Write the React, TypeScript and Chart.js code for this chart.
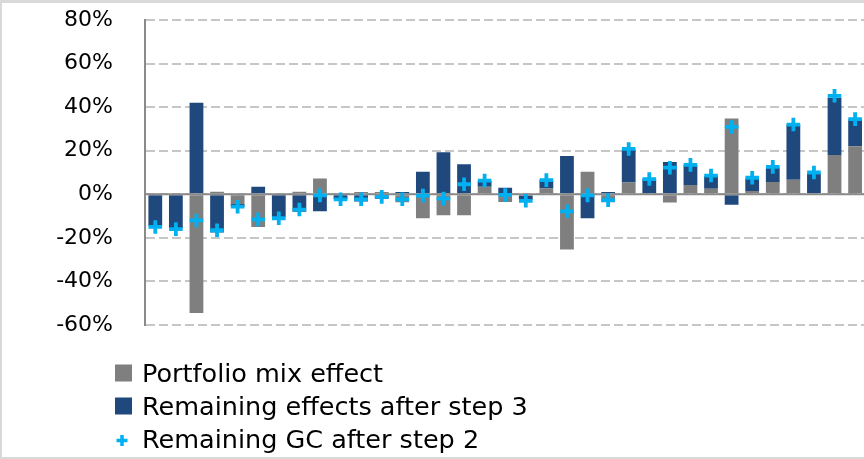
import React, { useEffect, useRef } from 'react';
import { Chart, registerables } from 'chart.js';

Chart.register(...registerables);

const categories = [
  '1', '2', '3', '4', '5', '6', '7', '8', '9', '10', '11', '12', '13', '14', '15', '16', '17', '18',
  '19', '20', '21', '22', '23', '24', '25', '26', '27', '28', '29', '30', '31', '32', '33', '34', '35',
];

const portfolioMix = [
  0, 0, -54.5, 1.2, -4.5, -15, 0, 1.2, 7.3, 0, 1, 1, -3.6, -11, -9.6, -9.6, 3.5, -3.5,
  -0.5, 2.7, -25.3, 10.3, -3.6, 5.4, 0.5, -3.8, 4.3, 2.5, 34.8, 1.5, 5.6, 6.7, 0.6, 18, 22,
];

const remainingEffects = [
  -14.5, -15.5, 42, -17.5, -1.2, 3.5, -10.5, -8, -7.8, -2.3, -3.3, -2, 1, 10.3, 19.3, 13.8, 2.6, 3,
  -2, 3.8, 17.6, -11, 1, 15, 6.5, 14.8, 9.1, 5.9, -4.8, 5.8, 6.7, 25.3, 8.9, 26.3, 12.3,
];

const remainingGC = [
  -15, -16, -12, -16.5, -5.7, -11.5, -11, -7, -0.5, -2.3, -2.3, -1.2, -2.3, -0.6, -2, 4.6, 6.3, -0.3,
  -3, 6.5, -7.8, -0.5, -2.7, 20.8, 7, 12.2, 13.5, 8.6, 30.9, 7.6, 12.6, 32, 10, 45.2, 34.5,
];

const seriesLabels = [
  'Portfolio mix effect',
  'Remaining effects after step 3',
  'Remaining GC after step 2',
];

const Y_MIN = -60;
const Y_MAX = 80;
const Y_STEP = 20;

const GRAY = '#7f7f7f';
const NAVY = '#1f497d';
const CYAN = '#00b0f0';
const AXIS = '#8a8a8a';
const GRID = '#c6c6c6';
const FONT = '"DejaVu Sans", sans-serif';

const zeroLinePlugin = {
  id: 'zeroLine',
  beforeDatasetDraw(chart: any, args: any) {
    if (args.index !== 2) return;
    const { ctx, chartArea, scales } = chart;
    const y = scales.y.getPixelForValue(0);
    ctx.save();
    ctx.strokeStyle = AXIS;
    ctx.lineWidth = 2;
    ctx.beginPath();
    ctx.moveTo(chartArea.left, y);
    ctx.lineTo(chartArea.right, y);
    ctx.stroke();
    ctx.restore();
  },
};

const legendPlugin = {
  id: 'columnLegend',
  afterDraw(chart: any) {
    const { ctx, chartArea } = chart;
    const baselines = [chartArea.bottom + 56.5, chartArea.bottom + 89.5, chartArea.bottom + 123];
    const boxX = 115;
    const textX = 142;
    ctx.save();
    ctx.font = `25.5px ${FONT}`;
    ctx.textBaseline = 'alphabetic';
    ctx.textAlign = 'left';
    chart.data.datasets.forEach((ds: any, i: number) => {
      const b = baselines[i];
      if (ds.type === 'line') {
        const cx = boxX + 7;
        const cy = b - 7.5;
        ctx.strokeStyle = ds.borderColor;
        ctx.lineWidth = 3.5;
        ctx.beginPath();
        ctx.moveTo(cx - 5.5, cy);
        ctx.lineTo(cx + 5.5, cy);
        ctx.moveTo(cx, cy - 5.5);
        ctx.lineTo(cx, cy + 5.5);
        ctx.stroke();
      } else {
        ctx.fillStyle = ds.backgroundColor;
        ctx.fillRect(boxX, b - 17, 17, 17);
      }
      ctx.fillStyle = '#000000';
      ctx.fillText(ds.label, textX, b);
    });
    ctx.restore();
  },
};

export default function App() {
  const canvasRef = useRef<HTMLCanvasElement | null>(null);

  useEffect(() => {
    if (!canvasRef.current) return;
    const chart = new Chart(canvasRef.current, {
      type: 'bar',
      data: {
        labels: categories,
        datasets: [
          {
            type: 'bar',
            label: seriesLabels[0],
            data: portfolioMix,
            backgroundColor: GRAY,
            borderWidth: 0,
            stack: 'effects',
            categoryPercentage: 1,
            barPercentage: 0.67,
          },
          {
            type: 'bar',
            label: seriesLabels[1],
            data: remainingEffects,
            backgroundColor: NAVY,
            borderWidth: 0,
            stack: 'effects',
            categoryPercentage: 1,
            barPercentage: 0.67,
          },
          {
            type: 'line',
            label: seriesLabels[2],
            data: remainingGC,
            showLine: false,
            stack: 'markers',
            order: -1,
            borderColor: CYAN,
            backgroundColor: CYAN,
            pointStyle: 'cross',
            pointRadius: 6.8,
            pointBorderWidth: 3.8,
            pointBorderColor: CYAN,
            pointBackgroundColor: CYAN,
          },
        ] as any,
      },
      options: {
        animation: false,
        responsive: false,
        maintainAspectRatio: false,
        layout: { padding: { top: 20, bottom: 134, left: 0, right: 2 } },
        plugins: {
          legend: { display: false },
          tooltip: { enabled: false },
        },
        scales: {
          x: {
            type: 'category',
            stacked: true,
            display: false,
            offset: true,
          },
          y: {
            type: 'linear',
            stacked: true,
            min: Y_MIN,
            max: Y_MAX,
            afterFit: (scale: any) => {
              scale.width = 145;
            },
            ticks: {
              stepSize: Y_STEP,
              padding: 0,
              color: '#000000',
              font: { family: FONT, size: 22 },
              callback: (v: any) => `${v}%`,
            },
            grid: {
              color: GRID,
              lineWidth: 2,
              drawTicks: true,
              tickLength: 32,
              tickColor: 'rgba(0,0,0,0)',
            },
            border: { display: true, color: AXIS, width: 2, dash: [9, 4] },
          },
        },
      } as any,
      plugins: [zeroLinePlugin, legendPlugin],
    });
    return () => chart.destroy();
  }, []);

  return (
    <div
      style={{
        position: 'absolute',
        left: 0,
        top: 0,
        width: 864,
        height: 459,
        overflow: 'hidden',
        background: '#ffffff',
      }}
    >
      <canvas ref={canvasRef} width={876} height={459} style={{ display: 'block' }} />
      <div
        style={{
          position: 'absolute',
          left: 0,
          top: 0,
          width: 864,
          height: 459,
          boxSizing: 'border-box',
          borderLeft: '2.5px solid #d9d9d9',
          borderTop: '3px solid #d9d9d9',
          borderBottom: '2.5px solid #d9d9d9',
          pointerEvents: 'none',
        }}
      />
    </div>
  );
}
